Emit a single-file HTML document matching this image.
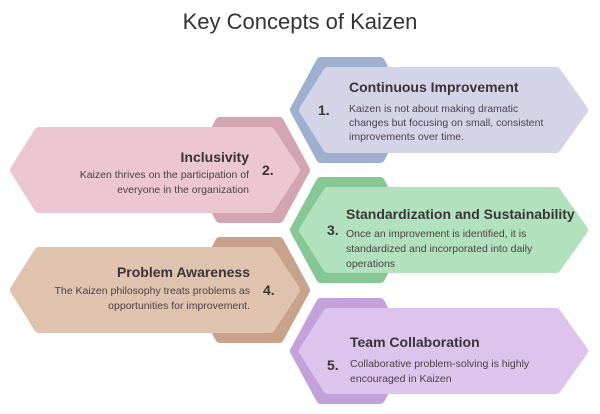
<!DOCTYPE html>
<html><head><meta charset="utf-8"><style>
html,body{margin:0;padding:0;background:#fff;}
svg{display:block;}
text{font-family:"Liberation Sans",sans-serif;fill:#3a3338;}
.h{font-size:14px;font-weight:bold;}
.b{font-size:10.5px;fill:#4a4247;}
.n{font-size:14px;font-weight:bold;}
</style></head><body>
<svg width="600" height="414" viewBox="0 0 600 414" xmlns="http://www.w3.org/2000/svg">
<text x="300" y="29" text-anchor="middle" style="font-size:22px;fill:#333;">Key Concepts of Kaizen</text>
<g stroke-linejoin="round" stroke-width="10">
<!-- 1 -->
<polygon points="295,110 321,62 380,62 405,110 380,158 321,158" fill="#9eafd0" stroke="#9eafd0"/>
<polygon points="304,110 328,72 556,72 583,110 556,148 328,148" fill="#d4d4e8" stroke="#d4d4e8"/>
<!-- 2 -->
<polygon points="305,170 279,122 220,122 195,170 220,218 279,218" fill="#d3a4b2" stroke="#d3a4b2"/>
<polygon points="15,170 39,132 270,132 295,170 270,208 39,208" fill="#ecc6d1" stroke="#ecc6d1"/>
<!-- 3 -->
<polygon points="295,230 321,182 380,182 405,230 380,278 321,278" fill="#86c796" stroke="#86c796"/>
<polygon points="304,230 328,192 556,192 583,230 556,268 328,268" fill="#b2e1bd" stroke="#b2e1bd"/>
<!-- 4 -->
<polygon points="305,290 279,242 220,242 195,290 220,338 279,338" fill="#c8a28a" stroke="#c8a28a"/>
<polygon points="15,290 39,252 270,252 295,290 270,328 39,328" fill="#dfc3ae" stroke="#dfc3ae"/>
<!-- 5 -->
<polygon points="295,351 321,303 380,303 405,351 380,399 321,399" fill="#c3a2db" stroke="#c3a2db"/>
<polygon points="304,351 328,313 556,313 583,351 556,389 328,389" fill="#dcc4ec" stroke="#dcc4ec"/>
</g>
<text class="h" x="349" y="92">Continuous Improvement</text>
<text class="n" x="318" y="115">1.</text>
<text class="b" x="349" y="112">Kaizen is not about making dramatic</text>
<text class="b" x="349" y="126">changes but focusing on small, consistent</text>
<text class="b" x="349" y="140">improvements over time.</text>

<text class="h" x="249" y="162" text-anchor="end">Inclusivity</text>
<text class="n" x="262" y="175">2.</text>
<text class="b" x="249" y="178" text-anchor="end">Kaizen thrives on the participation of</text>
<text class="b" x="249" y="193" text-anchor="end">everyone in the organization</text>

<text class="h" x="346" y="219">Standardization and Sustainability</text>
<text class="n" x="327" y="235">3.</text>
<text class="b" x="346" y="237">Once an improvement is identified, it is</text>
<text class="b" x="346" y="252">standardized and incorporated into daily</text>
<text class="b" x="346" y="267">operations</text>

<text class="h" x="250" y="277" text-anchor="end">Problem Awareness</text>
<text class="n" x="263" y="295">4.</text>
<text class="b" x="250" y="294" text-anchor="end">The Kaizen philosophy treats problems as</text>
<text class="b" x="250" y="309" text-anchor="end">opportunities for improvement.</text>

<text class="h" x="350" y="347">Team Collaboration</text>
<text class="n" x="327" y="370">5.</text>
<text class="b" x="350" y="367">Collaborative problem-solving is highly</text>
<text class="b" x="350" y="382">encouraged in Kaizen</text>
</svg>
</body></html>
